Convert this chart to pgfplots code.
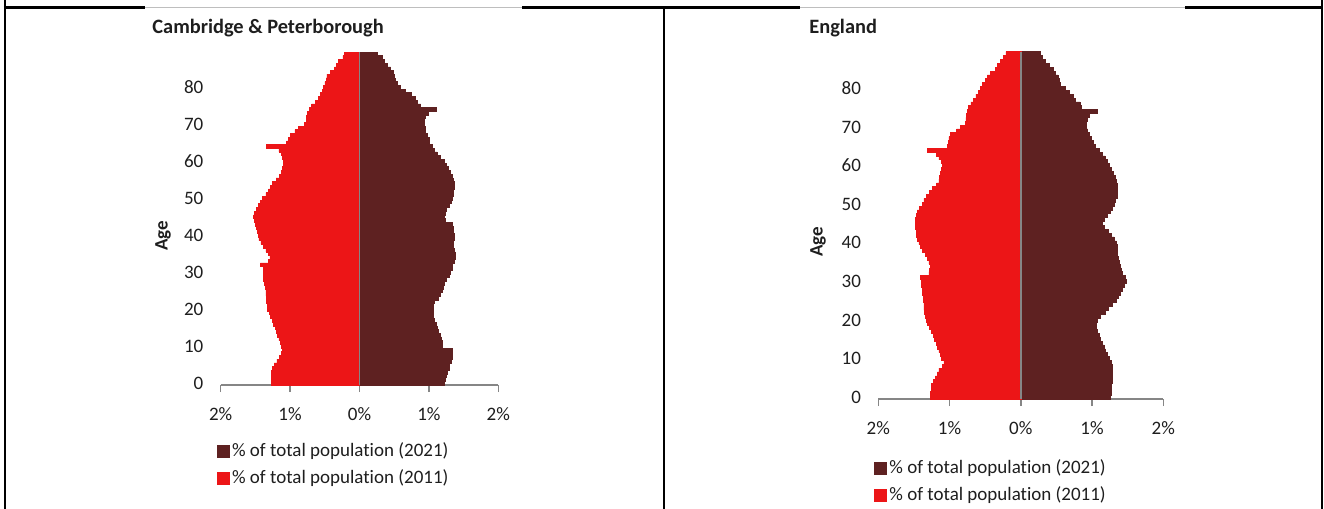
\documentclass[border=0pt]{standalone}
\usepackage{fontspec}
\setmainfont{Carlito}[Ligatures=NoCommon]
\usepackage{pgfplots}
\pgfplotsset{compat=1.18}
\usepackage{pgfplotstable}

\definecolor{pop21}{HTML}{5E2121}
\definecolor{pop11}{HTML}{EC1517}
\definecolor{axisgray}{HTML}{868686}
\definecolor{framegray}{HTML}{BEBEBE}
\definecolor{txt}{HTML}{1E1E1E}

% share of total population by single year of age (%), 2011 and 2021
\pgfplotstableread{
age p2011 p2021
0 1.27 1.22
1 1.27 1.24
2 1.27 1.25
3 1.27 1.27
4 1.26 1.29
5 1.23 1.30
6 1.19 1.32
7 1.15 1.33
8 1.12 1.34
9 1.11 1.34
10 1.12 1.20
11 1.14 1.19
12 1.16 1.18
13 1.18 1.16
14 1.20 1.14
15 1.21 1.12
16 1.24 1.10
17 1.26 1.08
18 1.28 1.07
19 1.30 1.06
20 1.33 1.06
21 1.33 1.07
22 1.34 1.08
23 1.34 1.14
24 1.35 1.17
25 1.35 1.19
26 1.36 1.21
27 1.37 1.22
28 1.38 1.25
29 1.38 1.29
30 1.39 1.31
31 1.39 1.33
32 1.43 1.34
33 1.31 1.37
34 1.29 1.38
35 1.31 1.38
36 1.35 1.36
37 1.38 1.35
38 1.42 1.35
39 1.45 1.36
40 1.46 1.36
41 1.47 1.35
42 1.48 1.35
43 1.50 1.34
44 1.52 1.24
45 1.53 1.22
46 1.51 1.23
47 1.48 1.25
48 1.46 1.29
49 1.43 1.32
50 1.40 1.33
51 1.35 1.35
52 1.31 1.35
53 1.28 1.36
54 1.25 1.36
55 1.20 1.35
56 1.15 1.33
57 1.13 1.31
58 1.11 1.28
59 1.10 1.25
60 1.10 1.22
61 1.11 1.17
62 1.13 1.12
63 1.16 1.08
64 1.34 1.05
65 1.05 1.01
66 1.03 1.00
67 1.00 0.97
68 0.93 0.95
69 0.88 0.95
70 0.79 0.94
71 0.76 0.93
72 0.76 0.95
73 0.75 0.99
74 0.72 1.10
75 0.69 0.88
76 0.63 0.84
77 0.59 0.80
78 0.56 0.74
79 0.54 0.66
80 0.52 0.59
81 0.50 0.55
82 0.48 0.51
83 0.47 0.50
84 0.42 0.48
85 0.36 0.45
86 0.33 0.40
87 0.30 0.36
88 0.24 0.33
89 0.22 0.26
}\cambs

\pgfplotstableread{
age p2011 p2021
0 1.27 1.26
1 1.27 1.27
2 1.26 1.27
3 1.25 1.27
4 1.23 1.28
5 1.20 1.29
6 1.17 1.29
7 1.15 1.29
8 1.10 1.29
9 1.08 1.27
10 1.12 1.24
11 1.13 1.22
12 1.15 1.19
13 1.17 1.17
14 1.19 1.15
15 1.21 1.12
16 1.23 1.10
17 1.26 1.08
18 1.28 1.06
19 1.31 1.06
20 1.33 1.07
21 1.34 1.12
22 1.35 1.18
23 1.36 1.23
24 1.36 1.28
25 1.37 1.34
26 1.37 1.37
27 1.38 1.40
28 1.38 1.42
29 1.39 1.45
30 1.40 1.48
31 1.41 1.47
32 1.29 1.43
33 1.28 1.41
34 1.27 1.39
35 1.29 1.38
36 1.31 1.37
37 1.34 1.36
38 1.38 1.35
39 1.41 1.35
40 1.43 1.34
41 1.45 1.31
42 1.46 1.27
43 1.47 1.23
44 1.48 1.17
45 1.48 1.15
46 1.48 1.17
47 1.47 1.21
48 1.45 1.25
49 1.42 1.29
50 1.38 1.31
51 1.36 1.33
52 1.32 1.35
53 1.28 1.35
54 1.24 1.35
55 1.18 1.35
56 1.15 1.34
57 1.14 1.32
58 1.13 1.30
59 1.11 1.27
60 1.10 1.24
61 1.12 1.21
62 1.15 1.18
63 1.18 1.15
64 1.31 1.10
65 1.03 1.04
66 1.02 1.02
67 1.01 0.99
68 0.99 0.96
69 0.90 0.94
70 0.85 0.92
71 0.78 0.92
72 0.77 0.93
73 0.76 0.96
74 0.75 1.08
75 0.73 0.85
76 0.70 0.83
77 0.67 0.77
78 0.63 0.73
79 0.60 0.68
80 0.57 0.62
81 0.54 0.56
82 0.50 0.54
83 0.47 0.52
84 0.43 0.48
85 0.36 0.45
86 0.33 0.40
87 0.29 0.35
88 0.24 0.30
89 0.21 0.27
}\england

\newcommand{\chartfont}{\fontsize{9.5}{11}\selectfont}
\newcommand{\titlefont}{\fontsize{10.2}{12}\selectfont\bfseries}

\pgfplotsset{
  pyramid/.style={
    scale only axis,
    xmin=-2, xmax=2, ymin=-0.5, ymax=89.5,
    xbar, bar width=1, bar shift=0pt,
    axis lines*=left,
    x axis line style={axisgray, line width=0.7pt},
    y axis line style={draw=none},
    xtick={-2,-1,0,1,2},
    xticklabels={2\%,1\%,0\%,1\%,2\%},
    ytick={0,10,...,80},
    tick align=outside,
    x tick style={axisgray, line width=0.7pt},
    y tick style={draw=none},
    major tick length=3.5pt,
    /pgf/number format/assume math mode=true,
    tick label style={font=\chartfont, text=txt},
    yticklabel style={inner sep=0pt, xshift=-5pt},
    xticklabel style={anchor=center, inner sep=0pt, yshift=-11pt},
    clip=false,
    legend image code/.code={\fill[##1] (0pt,-3pt) rectangle (6pt,3pt);},
    legend cell align=left,
    legend style={draw=none, fill=none, inner sep=0pt, outer sep=0pt,
      row sep=4.5pt, font=\chartfont, text=txt,
      nodes={inner sep=0pt, text height=7pt, text depth=2pt},
      /tikz/every odd column/.append style={column sep=1.4pt}},
  },
  bar21/.style={fill=pop21, draw=pop21, line width=0.3pt},
  bar11/.style={fill=pop11, draw=pop11, line width=0.3pt},
}

\begin{document}
\begin{tikzpicture}
\path[use as bounding box] (0,0) rectangle (662pt,-254.5pt);

% table frame around the two panels
\draw[black, line width=1.2pt] (2.5pt,0.5pt) -- (2.5pt,-254.5pt);
\draw[black, line width=1.2pt] (332pt,-3.65pt) -- (332pt,-254.5pt);
\draw[black, line width=1.2pt] (661pt,0.5pt) -- (661pt,-254.5pt);
\draw[black, line width=1.2pt] (1.9pt,-3.65pt) -- (72.5pt,-3.65pt);
\draw[black, line width=1.2pt] (261pt,-3.65pt) -- (400pt,-3.65pt);
\draw[black, line width=1.2pt] (592.5pt,-3.65pt) -- (661.6pt,-3.65pt);
\draw[framegray, line width=0.6pt] (72.5pt,-3.65pt) -- (261pt,-3.65pt);
\draw[framegray, line width=0.6pt] (400pt,-3.65pt) -- (592.5pt,-3.65pt);

% Cambridge & Peterborough
\begin{axis}[pyramid,
  at={(110.35pt,-192.5pt)}, anchor=south west,
  width=138.8pt, height=166.5pt,
  legend style={at={(-0.0144,-0.173)}, anchor=north west}]
\addplot[bar21] table[x=p2021, y=age] {\cambs};
\addplot[bar11] table[x expr=-\thisrow{p2011}, y=age] {\cambs};
\legend{\% of total population (2021), \% of total population (2011)}
\draw[axisgray, line width=0.8pt] (axis cs:0,-0.5) -- (axis cs:0,89.5);
\end{axis}
\node[anchor=west, font=\titlefont, text=txt, inner sep=0pt] at (76pt,-14pt) {Cambridge \& Peterborough};
\node[rotate=90, font=\chartfont\bfseries, text=txt, inner sep=0pt] at (81.5pt,-118pt) {Age};

% England
\begin{axis}[pyramid,
  at={(439.15pt,-199.5pt)}, anchor=south west,
  width=142.5pt, height=173.65pt,
  legend style={at={(-0.015,-0.1745)}, anchor=north west}]
\addplot[bar21] table[x=p2021, y=age] {\england};
\addplot[bar11] table[x expr=-\thisrow{p2011}, y=age] {\england};
\legend{\% of total population (2021), \% of total population (2011)}
\draw[axisgray, line width=0.8pt] (axis cs:0,-0.5) -- (axis cs:0,89.5);
\end{axis}
\node[anchor=west, font=\titlefont, text=txt, inner sep=0pt] at (404.5pt,-14pt) {England};
\node[rotate=90, font=\chartfont\bfseries, text=txt, inner sep=0pt] at (409pt,-121pt) {Age};
\end{tikzpicture}
\end{document}
